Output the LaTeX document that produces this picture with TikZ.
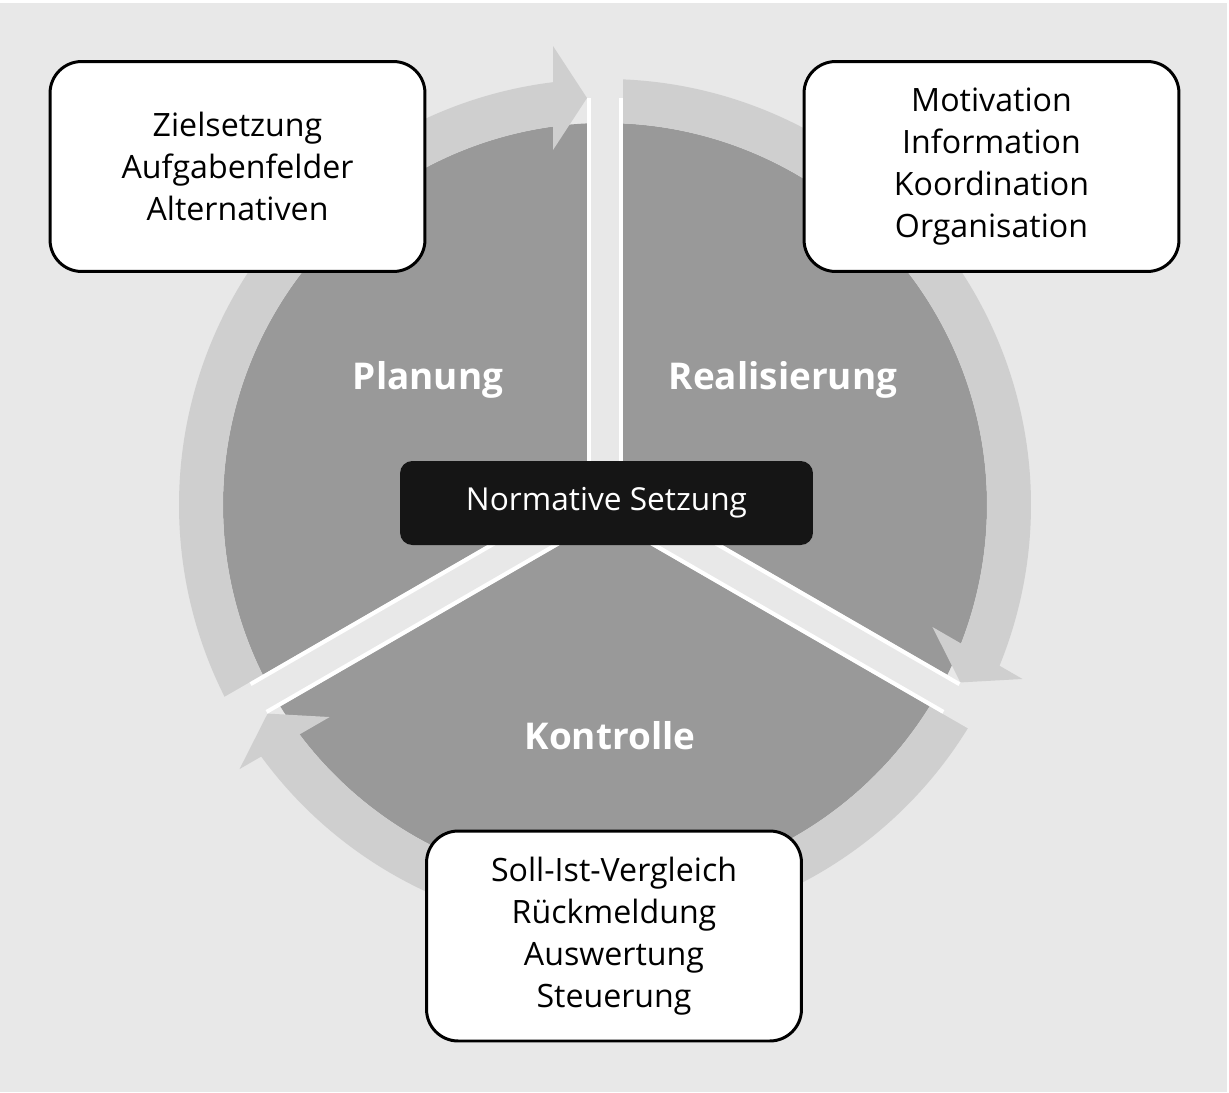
\documentclass[tikz,border=0pt]{standalone}
\usepackage{fontspec}
\setmainfont{Open Sans}
\usepackage{tikz}
\usetikzlibrary{calc}
\definecolor{bggray}{HTML}{E8E8E8}
\definecolor{diskgray}{HTML}{999999}
\definecolor{ringgray}{HTML}{CFCFCF}
\definecolor{nearblack}{HTML}{151515}
\tikzset{
  infobox/.style={
    draw=black, line width=1.7pt, fill=white, rounded corners=18pt,
    minimum width=7.5cm, minimum height=4.2cm, align=center,
    font=\fontsize{18.3}{24}\selectfont,
  },
  normbox/.style={
    fill=nearblack, rounded corners=7pt, text=white,
    minimum width=8.26cm, minimum height=1.68cm,
    font=\fontsize{18}{22}\selectfont,
  },
  phase/.style={text=white, font=\fontsize{21}{26}\selectfont\bfseries},
  ringpart/.style={fill=ringgray},
  gapband/.style={fill=bggray},
  gapedge/.style={draw=white, line width=2.3pt},
}

\begin{document}
\begin{tikzpicture}[x=0.02cm, y=0.02cm]

  \useasboundingbox (0,0) rectangle (1229,-1092);
  \fill[white] (0,0) rectangle (1229,-1092);
  \fill[bggray] (0,-3) rectangle (1227,-1092);

  \coordinate (C) at (605,-505);
  \coordinate (P) at (605,-498);

  \fill[diskgray] (C) circle[radius=382];

  % ring parts with arrowheads, clockwise
  \foreach \sa/\ea/\ga in {210/96.4/90, 90/-22.75/-30, -30/-144.5/210} {
    \fill[ringpart] ($(C)+(\sa:426)$) arc[start angle=\sa, end angle=\ea, radius=426]
      -- ($(C)+(\ea:382)$) arc[start angle=\ea, end angle=\sa, radius=382] -- cycle;
    \begin{scope}[shift={(P)}, rotate=\ga-90]
      \fill[ringpart] (-18,400) -- (-52,452) -- (-52,348) -- cycle;
    \end{scope}
  }

  % gaps between the three parts
  \foreach \ga in {90,-30,210} {
    \begin{scope}[shift={(P)}, rotate=\ga-90]
      \fill[gapband] (-18,0) rectangle (18,440);
      \draw[gapedge] (-16,0) -- (-16,400);
      \draw[gapedge] (16,0) -- (16,400);
    \end{scope}
  }

  \node[normbox] (norm) at (606.5,-503) {Normative Setzung};

  \node[phase] (plan) at (428,-380) {Planung};
  \node[phase] (real) at (783,-380) {Realisierung};
  \node[phase] (kontr) at (610,-736) {Kontrolle};

  \node[infobox] (planbox) at (237.5,-166.5)
    {Zielsetzung\\Aufgabenfelder\\Alternativen};
  \node[infobox] (realbox) at (991.5,-166.5)
    {Motivation\\Information\\Koordination\\Organisation};
  \node[infobox] (kontrbox) at (614,-936)
    {Soll-Ist-Vergleich\\Rückmeldung\\Auswertung\\Steuerung};

\end{tikzpicture}
\end{document}
